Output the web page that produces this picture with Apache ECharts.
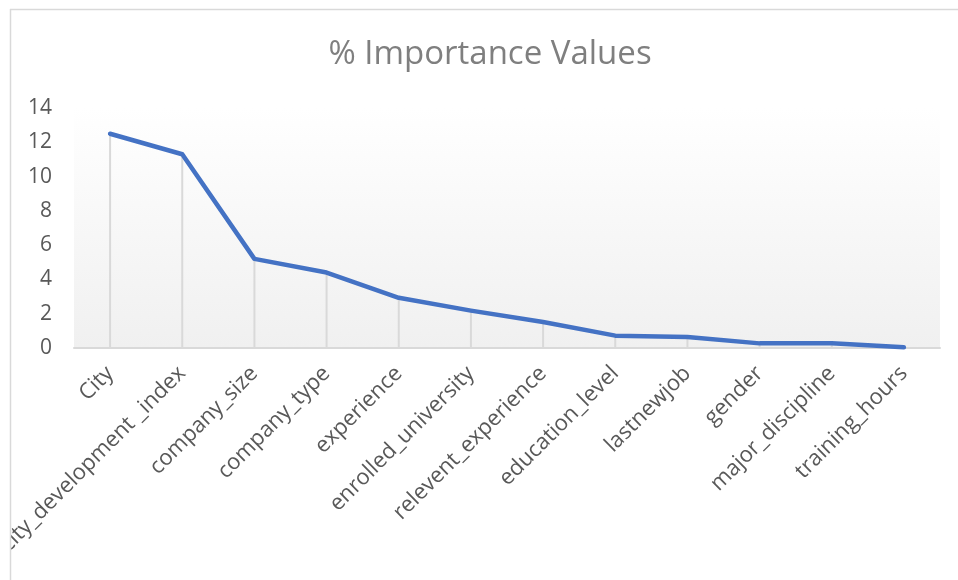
<!DOCTYPE html>
<html>
<head>
<meta charset="utf-8">
<script src="https://cdn.jsdelivr.net/npm/echarts@6/dist/echarts.min.js"></script>
<style>
  html, body { margin: 0; padding: 0; background: #fff; }
  #chart { width: 958px; height: 580px; }
</style>
</head>
<body>
<div id="chart"></div>
<script>
// feature names on the x axis
const features = [
  'City', 'city_development _index', 'company_size', 'company_type',
  'experience', 'enrolled_university', 'relevent_experience',
  'education_level', 'lastnewjob', 'gender', 'major_discipline', 'training_hours'
]
// % importance for each feature
const importance = [12.5, 11.3, 5.2, 4.4, 2.93, 2.18, 1.52, 0.72, 0.64, 0.27, 0.27, 0.04]
const yTicks = { min: 0, max: 14, interval: 2 }

const chart = echarts.init(document.getElementById('chart'))

const labelFont = 'Open Sans, Noto Sans, sans-serif'

const option = {
  animation: false,
  title: {
    text: '% Importance Values',
    left: 485,
    top: 33,
    textAlign: 'center',
    textStyle: { color: '#7f7f7f', fontSize: 33, fontWeight: 'normal', fontFamily: labelFont }
  },
  grid: {
    left: 74,
    right: 18,
    top: 108,
    bottom: 232,
    outerBoundsMode: 'none',
    containLabel: false,
    show: true,
    borderWidth: 0,
    backgroundColor: new echarts.graphic.LinearGradient(0, 0, 0, 1, [
      { offset: 0, color: '#ffffff' },
      { offset: 1, color: '#f0f0f0' }
    ])
  },
  xAxis: {
    type: 'category',
    data: features,
    boundaryGap: true,
    axisLine: { lineStyle: { color: '#d9d9d9', width: 2 } },
    axisTick: { show: false },
    axisLabel: {
      rotate: 45,
      interval: 0,
      margin: 22,
      color: '#595959',
      fontSize: 22,
      fontFamily: labelFont
    }
  },
  yAxis: {
    type: 'value',
    min: yTicks.min,
    max: yTicks.max,
    interval: yTicks.interval,
    axisLine: { show: false },
    axisTick: { show: false },
    splitLine: { show: false },
    axisLabel: {
      margin: 22,
      color: '#595959',
      fontSize: 21,
      fontFamily: labelFont
    }
  },
  series: [
    {
      // drop lines from each point to the axis
      type: 'bar',
      data: importance,
      barWidth: 2,
      itemStyle: { color: '#d9d9d9' },
      silent: true,
      z: 1
    },
    {
      type: 'line',
      data: importance,
      symbol: 'none',
      lineStyle: { color: '#4472c4', width: 4.5, cap: 'round', join: 'round' },
      z: 3
    }
  ],
  graphic: [
    // mask for the clipped label on the left, and the chart border
    { type: 'rect', shape: { x: 0, y: 0, width: 10, height: 580 }, style: { fill: '#fff' }, z: 100 },
    { type: 'rect', shape: { x: 0, y: 0, width: 958, height: 9 }, style: { fill: '#fff' }, z: 100 },
    { type: 'line', shape: { x1: 10, y1: 9.5, x2: 958, y2: 9.5 }, style: { stroke: '#d9d9d9', lineWidth: 1.5 }, z: 101 },
    { type: 'line', shape: { x1: 10.5, y1: 9, x2: 10.5, y2: 580 }, style: { stroke: '#d9d9d9', lineWidth: 1.5 }, z: 101 }
  ]
}

chart.setOption(option)
</script>
</body>
</html>
